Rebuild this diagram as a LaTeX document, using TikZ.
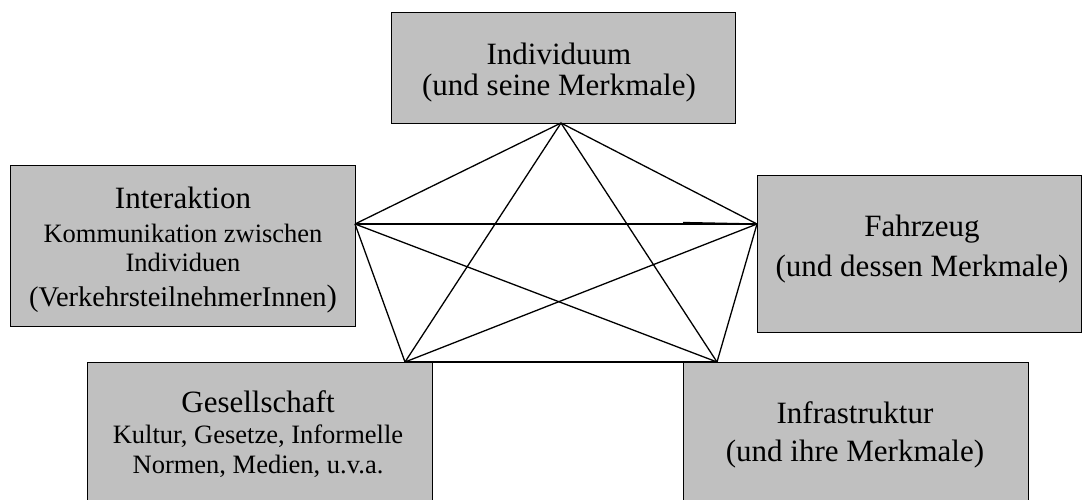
\documentclass[tikz,border=0pt]{standalone}
\usepackage{fontspec}
\setmainfont{Liberation Serif}
\newcommand{\bigtxt}{\fontsize{31}{33}\selectfont}
\newcommand{\smalltxt}{\fontsize{26.5}{29}\selectfont}
\newcommand{\midtxt}{\fontsize{28.5}{31}\selectfont}
\begin{document}
\begin{tikzpicture}[x=1pt,y=-1pt,
  factor/.style={draw=black, line width=1.4pt, fill={rgb,255:red,192;green,192;blue,192},
    rectangle, anchor=north west, inner sep=0pt},
  big/.style={anchor=base, inner sep=0pt, font=\bigtxt},
  small/.style={anchor=base, inner sep=0pt, font=\smalltxt},
  link/.style={draw=black, line width=1.3pt}]
\useasboundingbox (0,0) rectangle (1090,499);
\clip (0,0) rectangle (1090,499);
\fill[white] (0,0) rectangle (1090,499);

% the five factor boxes
\node[factor, minimum width=344pt, minimum height=111pt] (ind) at (391,12) {};
\node[factor, minimum width=345pt, minimum height=161pt] (int) at (10,165) {};
\node[factor, minimum width=324pt, minimum height=157pt] (fz)  at (757,175) {};
\node[factor, minimum width=345pt, minimum height=160pt] (ges) at (87,362) {};
\node[factor, minimum width=345pt, minimum height=160pt] (inf) at (683,362) {};

% box texts
\node[big]   (indA) at (559,64)  {Individuum};
\node[big]   (indB) at (559,95)  {(und seine Merkmale)};
\node[big]   (intA) at (183,208) {Interaktion};
\node[small] (intB) at (183,242) {Kommunikation zwischen};
\node[small] (intC) at (183,271) {Individuen};
\node[small] (intD) at (183,306) {\midtxt(VerkehrsteilnehmerInnen{\bigtxt)}};
\node[big]   (fzA)  at (922,236) {Fahrzeug};
\node[big]   (fzB)  at (922,276) {(und dessen Merkmale)};
\node[big]   (gesA) at (258,412) {Gesellschaft};
\node[small] (gesB) at (258,443) {Kultur, Gesetze, Informelle};
\node[small] (gesC) at (258,473) {Normen, Medien, u.v.a.};
\node[big]   (infA) at (855,423) {Infrastruktur};
\node[big]   (infB) at (855,461) {(und ihre Merkmale)};

% connection points
\coordinate (pA) at (561,123);
\coordinate (pB) at (355,224);
\coordinate (pC) at (757,224);
\coordinate (pD) at (405,362);
\coordinate (pE) at (717,362);
\coordinate (pF) at (683,222.5);

% every factor linked with every other
\draw[link] (pA) -- (pB);
\draw[link] (pA) -- (pC);
\draw[link] (pA) -- (pD);
\draw[link] (pA) -- (pE);
\draw[link] (pB) -- (pC);
\draw[link] (pB) -- (pD);
\draw[link] (pB) -- (pE);
\draw[link] (pC) -- (pD);
\draw[link] (pC) -- (pE);
\draw[link] (pD) -- (pE);
\draw[link] (pF) -- (pC);
\end{tikzpicture}
\end{document}
